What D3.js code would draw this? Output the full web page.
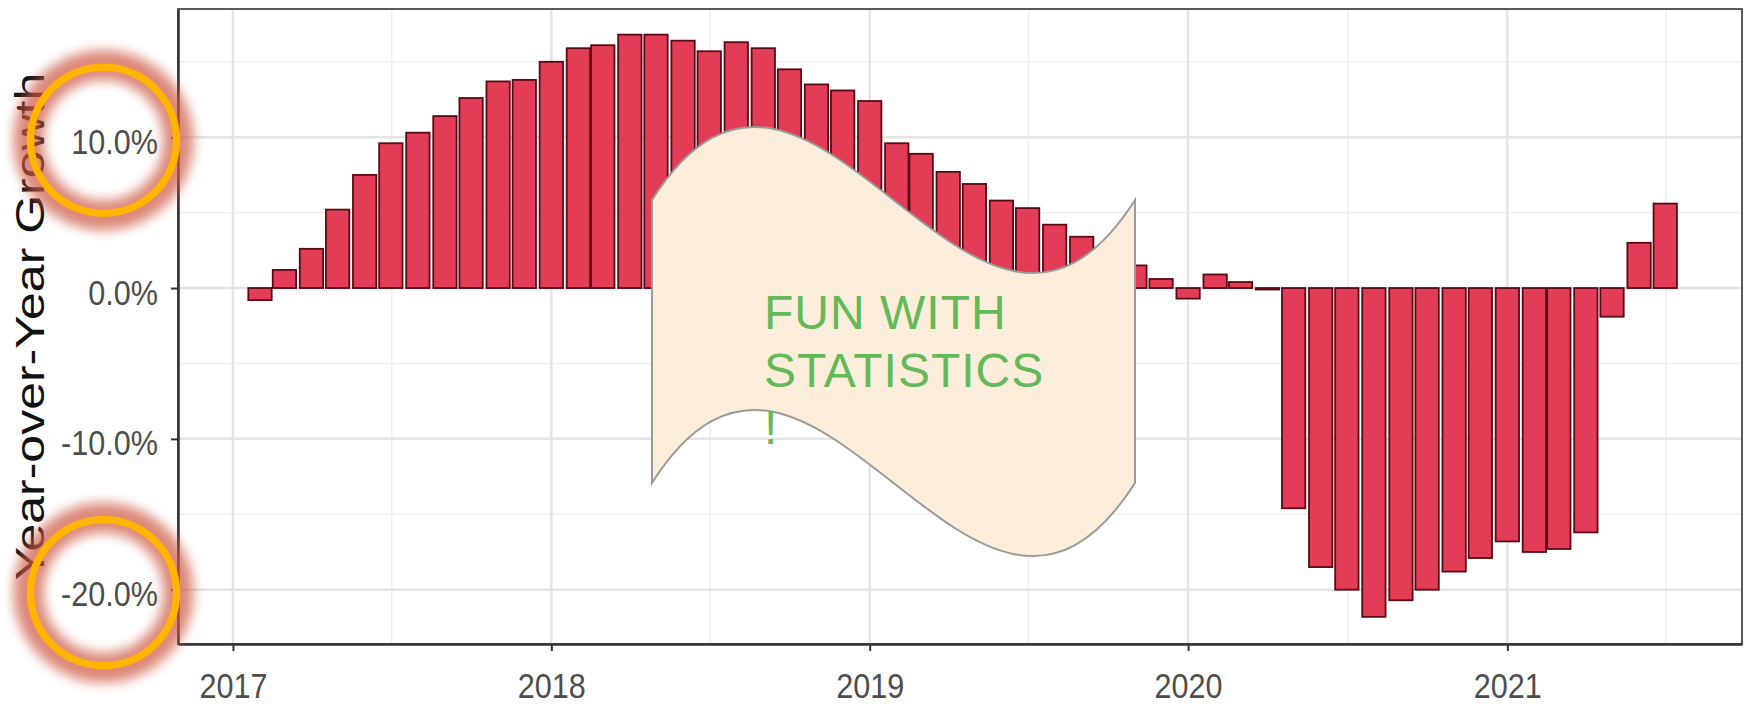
<!DOCTYPE html>
<html><head><meta charset="utf-8">
<script src="https://cdn.jsdelivr.net/npm/d3@7"></script>
<style>html,body{margin:0;padding:0;background:#fff;overflow:hidden}</style>
</head><body><svg id="c" width="1748" height="706"></svg>
<script>
// ---------------- data ----------------
const months = [
  "2017-02","2017-03","2017-04","2017-05","2017-06","2017-07","2017-08","2017-09","2017-10","2017-11","2017-12",
  "2018-01","2018-02","2018-03","2018-04","2018-05","2018-06","2018-07","2018-08","2018-09","2018-10","2018-11","2018-12",
  "2019-01","2019-02","2019-03","2019-04","2019-05","2019-06","2019-07","2019-08","2019-09","2019-10","2019-11","2019-12",
  "2020-01","2020-02","2020-03","2020-04","2020-05","2020-06","2020-07","2020-08","2020-09","2020-10","2020-11","2020-12",
  "2021-01","2021-02","2021-03","2021-04","2021-05","2021-06","2021-07"
];
const growth = [
  -0.8, 1.2, 2.6, 5.2, 7.5, 9.6, 10.3, 11.4, 12.6, 13.7, 13.8,
  15.0, 15.9, 16.1, 16.8, 16.8, 16.4, 15.7, 16.3, 15.9, 14.5, 13.5, 13.1,
  12.4, 9.6, 8.9, 7.7, 6.9, 5.8, 5.3, 4.2, 3.4, 2.4, 1.5, 0.6,
  -0.7, 0.9, 0.4, -0.1, -14.6, -18.5, -20.0, -21.8, -20.7, -20.0, -18.8, -17.9,
  -16.8, -17.5, -17.3, -16.2, -1.9, 3.0, 5.6
];
const yMajor = [-20, -10, 0, 10];
const yMinor = [-15, -5, 5, 15];
const xMajor = ["2017-01-01","2018-01-01","2019-01-01","2020-01-01","2021-01-01"];
const xMinor = ["2017-07-02","2018-07-02","2019-07-02","2020-07-02","2021-07-02"];
const xDomain = ["2016-10-30","2021-09-27"];
const yDomain = [-23.6, 18.5];
const yTitle = "Year-over-Year Growth";
const calloutLines = ["FUN WITH", "STATISTICS", "!"];
const highlighted = [10, -20];

// ---------------- layout ----------------
const P = {left: 178, right: 1742, top: 9, bottom: 644};
const FONT = "'Liberation Sans', Arial, Helvetica, sans-serif";
const SQ = 0.85; // horizontal squeeze of the original chart's text

const svg = d3.select("#c");
const parse = d3.utcParse("%Y-%m-%d");
const parseM = d3.utcParse("%Y-%m");

const x = d3.scaleUtc().domain(xDomain.map(parse)).range([P.left, P.right]);
const y = d3.scaleLinear().domain(yDomain).range([P.bottom, P.top]);

const data = months.map((m, i) => ({date: parseM(m), v: growth[i]}));
const monthW = (x(parse("2021-01-01")) - x(parse("2017-01-01"))) / 48;
const bw = monthW * 0.88;

// panel background
svg.append("rect").attr("x", P.left).attr("y", P.top)
  .attr("width", P.right - P.left).attr("height", P.bottom - P.top).attr("fill", "#fff");

// grid
const grid = svg.append("g");
grid.selectAll(".ymin").data(yMinor).join("line")
  .attr("x1", P.left).attr("x2", P.right).attr("y1", d => y(d)).attr("y2", d => y(d))
  .attr("stroke", "#efefef").attr("stroke-width", 1.6);
grid.selectAll(".xmin").data(xMinor).join("line")
  .attr("y1", P.top).attr("y2", P.bottom).attr("x1", d => x(parse(d))).attr("x2", d => x(parse(d)))
  .attr("stroke", "#efefef").attr("stroke-width", 1.6);
grid.selectAll(".ymaj").data(yMajor).join("line")
  .attr("x1", P.left).attr("x2", P.right).attr("y1", d => y(d)).attr("y2", d => y(d))
  .attr("stroke", "#e4e4e4").attr("stroke-width", 2.5);
grid.selectAll(".xmaj").data(xMajor).join("line")
  .attr("y1", P.top).attr("y2", P.bottom).attr("x1", d => x(parse(d))).attr("x2", d => x(parse(d)))
  .attr("stroke", "#e4e4e4").attr("stroke-width", 2.5);

// bars
svg.append("g").selectAll("rect").data(data).join("rect")
  .attr("x", d => x(d.date) - bw / 2)
  .attr("width", bw)
  .attr("y", d => y(Math.max(0, d.v)))
  .attr("height", d => Math.abs(y(d.v) - y(0)))
  .attr("fill", "#e33c56")
  .attr("stroke", "#5a0a16")
  .attr("stroke-width", 1.8);

// panel border
svg.append("rect").attr("x", P.left).attr("y", P.top)
  .attr("width", P.right - P.left).attr("height", P.bottom - P.top)
  .attr("fill", "none").attr("stroke", "#5a5a5a").attr("stroke-width", 2);

// axes
const yAxis = svg.append("g").attr("transform", `translate(${P.left},0)`)
  .call(d3.axisLeft(y).tickValues(yMajor).tickSize(7).tickSizeOuter(0).tickFormat(d => d.toFixed(1) + "%"));
const xAxis = svg.append("g").attr("transform", `translate(0,${P.bottom})`)
  .call(d3.axisBottom(x).tickValues(xMajor.map(parse)).tickSize(7).tickSizeOuter(0).tickFormat(d3.utcFormat("%Y")));
[yAxis, xAxis].forEach(a => {
  a.select(".domain").attr("stroke", "#333").attr("stroke-width", 2.5);
  a.selectAll(".tick line").attr("stroke", "#333").attr("stroke-width", 2);
  a.selectAll("text").attr("font-family", FONT).attr("font-size", 36).attr("fill", "#4d4d4d");
});
yAxis.selectAll("text").attr("x", 0).attr("dy", "0.36em")
  .attr("transform", `translate(-20,3) scale(${SQ},1)`);
xAxis.selectAll("text").attr("y", 0).attr("dy", 0)
  .attr("transform", `translate(0,54) scale(${SQ},1)`);

// y title
svg.append("text")
  .attr("transform", `translate(44,${(P.top + P.bottom) / 2}) scale(0.82,1) rotate(-90)`)
  .attr("text-anchor", "middle")
  .attr("font-family", FONT).attr("font-size", 50).attr("fill", "#111")
  .text(yTitle);

// callout wave shape
const C = {l: 652, r: 1135, top: 200, bot: 483, amp: 253};
const w3 = (C.r - C.l) / 3;
const wave = d3.path();
wave.moveTo(C.l, C.top);
wave.bezierCurveTo(C.l + w3, C.top - C.amp, C.l + 2 * w3, C.top + C.amp, C.r, C.top);
wave.lineTo(C.r, C.bot);
wave.bezierCurveTo(C.l + 2 * w3, C.bot + C.amp, C.l + w3, C.bot - C.amp, C.l, C.bot);
wave.closePath();
svg.append("path").attr("d", wave.toString())
  .attr("fill", "#fdeedb").attr("stroke", "#9a9a9a").attr("stroke-width", 2);

svg.append("g").selectAll("text").data(calloutLines).join("text")
  .attr("x", 764).attr("y", (d, i) => 329 + i * 57.5)
  .attr("font-family", FONT).attr("font-size", 48).attr("letter-spacing", 1)
  .attr("fill", "#64ba5a")
  .text(d => d);

// highlight circles on tick labels
const defs = svg.append("defs");
defs.append("filter").attr("id", "glow").attr("x", "-50%").attr("y", "-50%")
  .attr("width", "200%").attr("height", "200%")
  .append("feGaussianBlur").attr("stdDeviation", 6);
const hl = svg.append("g").selectAll("g").data(highlighted).join("g")
  .attr("transform", d => `translate(103.5,${y(d) + 3})`);
hl.append("circle").attr("r", 75).attr("fill", "none")
  .attr("stroke", "#cf5a44").attr("stroke-width", 30).attr("opacity", 0.72)
  .attr("filter", "url(#glow)");
hl.append("circle").attr("r", 73).attr("fill", "none")
  .attr("stroke", "#ffb400").attr("stroke-width", 7.5);
</script></body></html>
